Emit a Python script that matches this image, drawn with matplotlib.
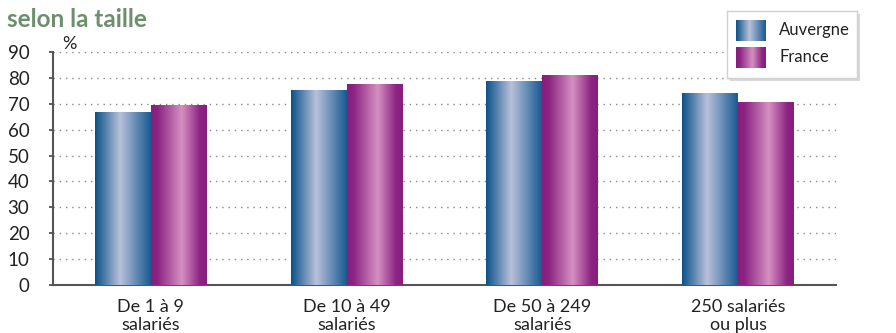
import matplotlib
matplotlib.use("Agg")
import matplotlib.pyplot as plt
import numpy as np
from matplotlib.colors import LinearSegmentedColormap
from matplotlib.patches import FancyBboxPatch

# Data
categories = ["De 1 à 9\nsalariés", "De 10 à 49\nsalariés",
              "De 50 à 249\nsalariés", "250 salariés\nou plus"]
series_names = ["Auvergne", "France"]
auvergne = [66.8, 75.1, 78.7, 74.0]
france = [69.5, 77.4, 81.0, 70.5]
yticks = [0, 10, 20, 30, 40, 50, 60, 70, 80, 90]

plt.rcParams["font.family"] = ["Lato", "DejaVu Sans"]

# Horizontal gradients imitating the shaded bars
blue_cmap = LinearSegmentedColormap.from_list(
    "blue", [(0.0, "#0a5189"), (0.45, "#b9c1da"), (1.0, "#185a92")])
purple_cmap = LinearSegmentedColormap.from_list(
    "purple", [(0.0, "#871e7e"), (0.12, "#8c2482"), (0.55, "#d590c1"),
               (0.88, "#8c2482"), (1.0, "#871e7e")])
grad = np.linspace(0, 1, 256).reshape(1, -1)

fig = plt.figure(figsize=(8.96, 3.33), dpi=100)
ax = fig.add_axes([53 / 896, 1 - 285 / 333, 783 / 896, 233 / 333])
ax.set_zorder(0)

x = np.arange(len(categories))
width = 0.286


def gradient_bars(xpos, values, cmap):
    bars = ax.bar(xpos, values, width, color=cmap(0.0), zorder=2)
    for b in bars:
        x0, w, h = b.get_x(), b.get_width(), b.get_height()
        ax.imshow(grad, cmap=cmap, aspect="auto", zorder=3,
                  extent=[x0, x0 + w, 0, h], interpolation="bicubic")


gradient_bars(x - width / 2, auvergne, blue_cmap)
gradient_bars(x + width / 2, france, purple_cmap)

ax.set_xlim(-0.5, len(categories) - 0.5)
ax.set_ylim(0, 90)
ax.set_yticks(yticks)
ax.set_xticks(x, labels=categories)
ax.tick_params(axis="x", length=0, pad=10, labelsize=13, colors="#222222")
ax.tick_params(axis="y", length=3, width=1.2, pad=14, labelsize=13.5,
               colors="#444444", labelcolor="#222222")
for lab in ax.get_xticklabels():
    lab.set_linespacing(1.2)

ax.grid(axis="y", color="#8a8a8a", linestyle=(0, (1, 3.5)), linewidth=1.0,
        zorder=0)
ax.set_axisbelow(True)
for side in ["top", "right"]:
    ax.spines[side].set_visible(False)
for side in ["left", "bottom"]:
    ax.spines[side].set_color("#555555")
    ax.spines[side].set_linewidth(1.5)

ax.text(0.012, 1.0, "%", transform=ax.transAxes, fontsize=13,
        color="#222222", va="bottom", ha="left")

fig.text(7 / 896, 1 - 27 / 333, "selon la taille", fontsize=17.5,
         fontweight="bold", color="#6e8f6e", ha="left", va="baseline")

# Legend drawn by hand so the swatches can carry the gradient
lx, ly, lw, lh = 727 / 896, 1 - 78 / 333, 130 / 896, 67 / 333
shadow = FancyBboxPatch((lx + 3 / 896, ly - 3 / 333), lw, lh,
                        boxstyle="square,pad=0", transform=fig.transFigure,
                        facecolor="#d8d8d8", edgecolor="none", zorder=1)
fig.patches.append(shadow)
leg = fig.add_axes([lx, ly, lw, lh])
leg.set_zorder(2)
leg.set_xticks([])
leg.set_yticks([])
for s in leg.spines.values():
    s.set_color("#d0d0d0")
    s.set_linewidth(1.0)
for name, cmap, y0 in [(series_names[0], blue_cmap, 9),
                       (series_names[1], purple_cmap, 36)]:
    leg.imshow(grad, cmap=cmap, aspect="auto",
               extent=[9, 39, y0 + 21, y0], interpolation="bicubic")
    leg.text(52, y0 + 10.5, name, fontsize=12, color="#222222",
             va="center", ha="left")
leg.set_xlim(0, 130)
leg.set_ylim(67, 0)

fig.savefig("out.png", dpi=100)
